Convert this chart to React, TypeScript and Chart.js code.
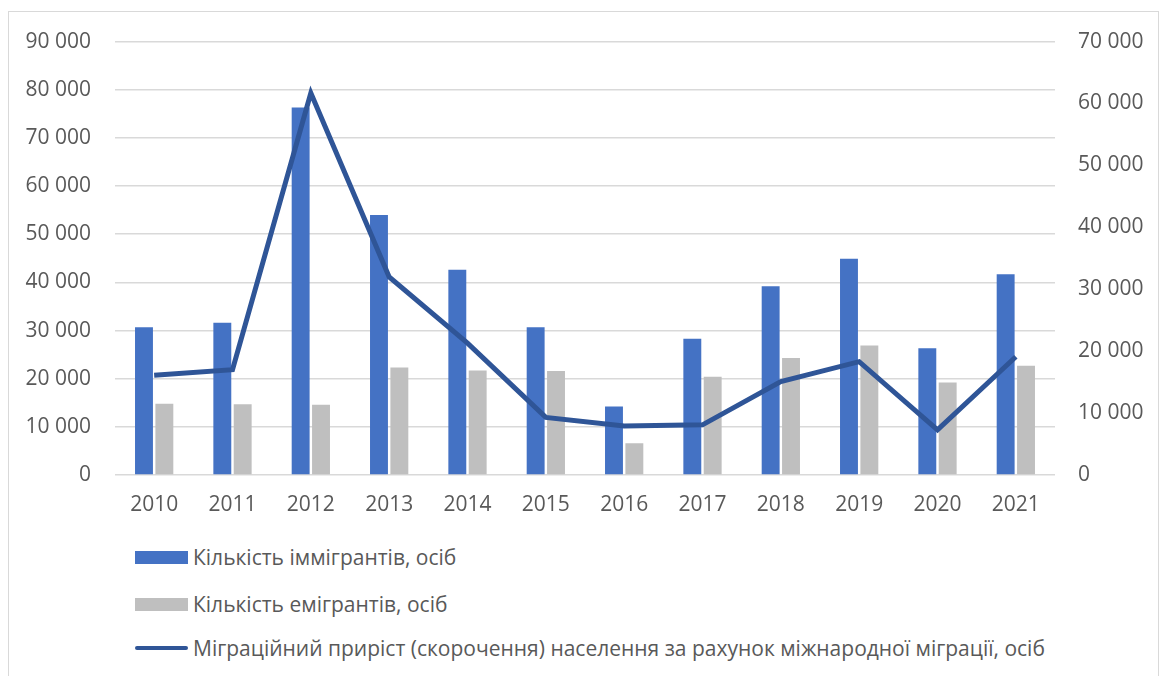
import React, { useEffect, useRef } from "react";
import { Chart, registerables } from "chart.js";

Chart.register(...registerables);

const years = ["2010", "2011", "2012", "2013", "2014", "2015", "2016", "2017", "2018", "2019", "2020", "2021"];
const immigrants = [30700, 31600, 76300, 54000, 42600, 30700, 14200, 28300, 39200, 44900, 26300, 41700];
const emigrants = [14800, 14700, 14600, 22300, 21700, 21600, 6600, 20400, 24300, 26900, 19200, 22700];
const netMigration = [16100, 17000, 61700, 32000, 21300, 9300, 7900, 8100, 15100, 18300, 7300, 19100];

const labelImm = "Кількість іммігрантів, осіб";
const labelEmi = "Кількість емігрантів, осіб";
const labelNet = "Міграційний приріст (скорочення) населення за рахунок міжнародної міграції, осіб";

const BLUE = "#4472C4";
const GRAY = "#BFBFBF";
const DARK = "#2F5597";
const TEXT = "#595959";
const FONT = "'Open Sans', 'DejaVu Sans', sans-serif";

const fmt = (v: number | string) => String(v).replace(/\B(?=(\d{3})+(?!\d))/g, " ");

export default function App() {
  const ref = useRef<HTMLCanvasElement | null>(null);

  useEffect(() => {
    if (!ref.current) return;
    const chart = new Chart(ref.current, {
      data: {
        labels: years,
        datasets: [
          {
            type: "line",
            label: labelNet,
            data: netMigration,
            yAxisID: "y2",
            borderColor: DARK,
            backgroundColor: DARK,
            borderWidth: 5,
            pointRadius: 0,
            tension: 0,
            order: 0,
          },
          {
            type: "bar",
            label: labelImm,
            data: immigrants,
            yAxisID: "y",
            backgroundColor: BLUE,
            categoryPercentage: 0.52,
            barPercentage: 0.88,
            order: 1,
          },
          {
            type: "bar",
            label: labelEmi,
            data: emigrants,
            yAxisID: "y",
            backgroundColor: GRAY,
            categoryPercentage: 0.52,
            barPercentage: 0.88,
            order: 1,
          },
        ],
      },
      options: {
        animation: false,
        responsive: false,
        maintainAspectRatio: false,
        layout: { padding: { top: 21, left: 0, right: 0, bottom: 0 } },
        plugins: { legend: { display: false }, tooltip: { enabled: false } },
        scales: {
          x: {
            grid: { display: false, drawTicks: false },
            border: { display: false },
            ticks: { color: TEXT, font: { family: FONT, size: 21 }, padding: 17, maxRotation: 0 },
            afterFit: (s: any) => {
              s.height = 58;
            },
          },
          y: {
            position: "left",
            min: 0,
            max: 90000,
            grid: { color: "#D9D9D9", lineWidth: 1.5, drawTicks: false },
            border: { display: false },
            ticks: {
              stepSize: 10000,
              color: TEXT,
              font: { family: FONT, size: 21 },
              padding: 24,
              callback: (v: any) => fmt(v),
            },
            afterFit: (s: any) => {
              s.width = 106;
            },
          },
          y2: {
            position: "right",
            min: 0,
            max: 70000,
            grid: { display: false, drawTicks: false },
            border: { display: false },
            ticks: {
              stepSize: 10000,
              color: TEXT,
              font: { family: FONT, size: 21 },
              padding: 23,
              callback: (v: any) => fmt(v),
            },
            afterFit: (s: any) => {
              s.width = 103;
            },
          },
        },
      },
    } as any);
    return () => chart.destroy();
  }, []);

  const rowStyle = (top: number): React.CSSProperties => ({
    position: "absolute",
    left: 126,
    top,
    height: 30,
    display: "flex",
    alignItems: "center",
    fontFamily: FONT,
    fontSize: 21,
    color: TEXT,
    whiteSpace: "nowrap",
  });

  return (
    <div
      style={{
        position: "absolute",
        left: 8,
        top: 11,
        width: 1151,
        height: 700,
        boxSizing: "border-box",
        border: "1px solid #D9D9D9",
        background: "#fff",
      }}
    >
      <canvas
        ref={ref}
        width={1149}
        height={528}
        style={{ display: "block", width: 1149, height: 528, marginTop: -7 }}
      />
      <div style={rowStyle(545 - 15)}>
        <span style={{ display: "inline-block", width: 53, height: 13, background: BLUE, marginRight: 5 }} />
        <span>{labelImm}</span>
      </div>
      <div style={rowStyle(592 - 15)}>
        <span style={{ display: "inline-block", width: 53, height: 13, background: GRAY, marginRight: 5 }} />
        <span>{labelEmi}</span>
      </div>
      <div style={rowStyle(636 - 15)}>
        <span style={{ display: "inline-block", width: 53, height: 4.5, borderRadius: 2, background: DARK, marginRight: 5 }} />
        <span>{labelNet}</span>
      </div>
    </div>
  );
}
